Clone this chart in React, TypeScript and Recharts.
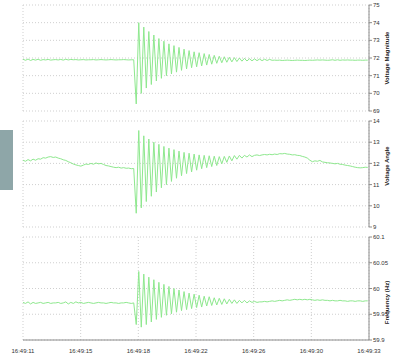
import { CartesianGrid, Line, LineChart, XAxis, YAxis } from "recharts";

// sample spacing in seconds, x of sample i is i * STEP
const STEP = 0.16;

const timeTicks = [0, 3.667, 7.333, 11, 14.667, 18.333, 22];
const timeLabels = ["16:49:11", "16:49:15", "16:49:18", "16:49:22", "16:49:26", "16:49:30", "16:49:33"];

const magTicks = [69, 70, 71, 72, 73, 74, 75];
const angleTicks = [9, 10, 11, 12, 13, 14];
const freqTicks = [59.9, 59.95, 60, 60.05, 60.1];

const magnitude = [
  71.93, 71.87, 71.94, 71.86, 71.92, 71.88, 71.93, 71.87, 71.91, 71.89, 71.92, 71.88, 71.9, 71.91, 71.89,
  71.92, 71.88, 71.93, 71.89, 71.92, 71.9, 71.91, 71.89, 71.9, 71.91, 71.89, 71.9, 71.9, 71.91, 71.89,
  71.9, 71.91, 71.9, 71.89, 71.9, 71.91, 71.9, 71.89, 71.9, 71.9, 71.91, 71.9, 71.89, 71.9, 71.9,
  69.4, 74.0, 70.0, 73.75, 70.3, 73.5, 70.5, 73.3, 70.7, 73.1, 70.85, 72.95, 71.0, 72.8, 71.1,
  72.7, 71.2, 72.6, 71.3, 72.5, 71.38, 72.42, 71.45, 72.35, 71.5, 72.3, 71.55, 72.25, 71.6, 72.2,
  71.65, 72.15, 71.7, 72.1, 71.73, 72.07, 71.76, 72.04, 71.78, 72.02, 71.8, 72.0, 71.82, 71.98, 71.83,
  71.96, 71.84, 71.95, 71.85, 71.94, 71.85, 71.93, 71.86, 71.92,
  71.87, 71.88, 71.87, 71.88, 71.86, 71.87, 71.88, 71.87, 71.86, 71.87, 71.88, 71.87, 71.87, 71.86, 71.87,
  71.88, 71.87, 71.88, 71.89, 71.88, 71.89, 71.88, 71.87, 71.88, 71.9, 71.87, 71.9, 71.87, 71.89, 71.88,
  71.89, 71.88, 71.88, 71.87, 71.88, 71.88, 71.87, 71.88, 71.88,
];

const angle = [
  12.15, 12.1, 12.18, 12.12, 12.2, 12.15, 12.22, 12.2, 12.27, 12.25, 12.3,
  12.32, 12.28, 12.3, 12.25, 12.22, 12.17,
  12.14, 12.08, 12.03, 11.97, 11.93, 11.9,
  11.87, 11.92, 11.97, 11.95, 12.0, 11.96, 12.02, 11.98,
  12.0, 11.95, 11.9, 11.88, 11.85, 11.82,
  11.8, 11.82, 11.78, 11.8, 11.77, 11.78, 11.75, 11.76,
  9.65, 13.55, 9.9, 13.3, 10.2, 13.15, 10.45, 13.0, 10.65, 12.9, 10.85, 12.8, 11.0, 12.72, 11.15,
  12.65, 11.3, 12.58, 11.42, 12.52, 11.52, 12.48, 11.6, 12.44, 11.68, 12.4, 11.75, 12.38, 11.8, 12.36,
  11.85, 12.34, 11.9, 12.32, 11.98, 12.33, 12.05, 12.35, 12.12, 12.37, 12.2, 12.38, 12.25, 12.38, 12.3,
  12.4, 12.32,
  12.38, 12.4, 12.37, 12.4, 12.42, 12.4, 12.43, 12.41, 12.44, 12.42,
  12.46, 12.45, 12.47, 12.44, 12.43, 12.4, 12.41, 12.38, 12.37, 12.33,
  12.3, 12.25, 12.15, 12.08, 12.12, 12.1, 12.14, 12.07, 12.05, 12.03,
  12.02, 12.0, 11.98, 12.0, 11.96, 11.95, 11.92, 11.9, 11.88, 11.85, 11.82, 11.8, 11.79, 11.8, 11.82, 11.81,
];

const frequency = [
  59.973, 59.971, 59.974, 59.97, 59.973, 59.971, 59.972, 59.973, 59.971, 59.972, 59.973, 59.971, 59.972, 59.972, 59.973,
  59.971, 59.972, 59.974, 59.97, 59.973, 59.971, 59.974, 59.972, 59.973, 59.971, 59.972, 59.973, 59.972, 59.971, 59.972,
  59.973, 59.972, 59.972, 59.971, 59.972, 59.973, 59.972, 59.972, 59.971, 59.972, 59.972, 59.973, 59.972, 59.971, 59.972,
  59.93, 60.033, 59.925, 60.028, 59.93, 60.022, 59.935, 60.017, 59.94, 60.012, 59.944, 60.008, 59.948, 60.004, 59.951,
  60.0, 59.954, 59.997, 59.957, 59.994, 59.959, 59.991, 59.961, 59.989, 59.963, 59.987, 59.964, 59.985, 59.966, 59.984,
  59.967, 59.982, 59.968, 59.981, 59.969, 59.98, 59.97, 59.979, 59.971, 59.978, 59.971, 59.977, 59.972, 59.977, 59.972,
  59.976,
  59.973, 59.975, 59.973, 59.974, 59.974, 59.975, 59.974, 59.975, 59.976, 59.975, 59.976, 59.977, 59.976, 59.977, 59.978,
  59.977, 59.978, 59.979, 59.978, 59.979, 59.978, 59.979, 59.978, 59.979, 59.978, 59.977, 59.978, 59.977, 59.978, 59.977,
  59.977, 59.976, 59.977, 59.976, 59.976, 59.977, 59.976, 59.976, 59.975, 59.976, 59.976, 59.975, 59.976, 59.976, 59.975,
  59.976, 59.976,
];

const LINE = "#8ee88e";
const FRAME = "#8c8c8c";
const FONT = "Liberation Sans, Arial, sans-serif";

function RightTitle(props: any) {
  const { viewBox, text, shift = 0 } = props;
  if (!viewBox) return null;
  const x = viewBox.x + viewBox.width - 8;
  const y = viewBox.y + viewBox.height / 2 + shift;
  return (
    <text
      x={x}
      y={y}
      transform={`rotate(-90, ${x}, ${y})`}
      textAnchor="middle"
      dominantBaseline="central"
      fontSize={6}
      fontWeight="bold"
      fill="#222"
      fontFamily={FONT}
    >
      {text}
    </text>
  );
}

type PanelProps = {
  values: number[];
  ticks: number[];
  title: string;
  titleShift?: number;
  top: number;
  height: number;
  marginTop: number;
  marginBottom: number;
  showTime?: boolean;
};

function Panel({ values, ticks, title, titleShift, top, height, marginTop, marginBottom, showTime }: PanelProps) {
  const data = values.map((v, i) => ({ t: i * STEP, v }));
  const domain: [number, number] = [ticks[0], ticks[ticks.length - 1]];
  return (
    <div style={{ position: "absolute", left: 0, top }}>
      <LineChart
        width={395}
        height={height}
        data={data}
        margin={{ top: marginTop, right: 0, bottom: marginBottom, left: 23 }}
      >
        <CartesianGrid stroke="#cfcfcf" strokeDasharray="1 2" />
        <XAxis
          type="number"
          dataKey="t"
          domain={[0, 22]}
          ticks={timeTicks}
          height={showTime ? 13 : 0}
          tick={showTime ? { fontSize: 6, fill: "#333", fontFamily: FONT } : false}
          tickFormatter={(v: number) => timeLabels[timeTicks.indexOf(v)] ?? ""}
          tickLine={false}
          tickMargin={3}
          axisLine={{ stroke: FRAME }}
          interval={0}
        />
        <XAxis
          xAxisId="top"
          orientation="top"
          type="number"
          dataKey="t"
          domain={[0, 22]}
          height={0}
          tick={false}
          tickLine={false}
          axisLine={{ stroke: FRAME }}
        />
        <YAxis
          orientation="right"
          domain={domain}
          ticks={ticks}
          width={26}
          interval={0}
          tick={{ fontSize: 6, fill: "#333", fontFamily: FONT }}
          tickSize={3}
          tickMargin={1}
          tickLine={{ stroke: FRAME }}
          axisLine={{ stroke: FRAME }}
          label={<RightTitle text={title} shift={titleShift} />}
        />
        <YAxis
          yAxisId="left"
          orientation="left"
          domain={domain}
          width={0}
          tick={false}
          tickLine={false}
          axisLine={{ stroke: FRAME }}
        />
        <Line
          type="linear"
          dataKey="v"
          stroke={LINE}
          strokeWidth={1}
          dot={false}
          isAnimationActive={false}
        />
      </LineChart>
    </div>
  );
}

export default function App() {
  return (
    <div
      style={{
        position: "absolute",
        left: 0,
        top: 0,
        width: 395,
        height: 353,
        background: "#fff",
        fontFamily: FONT,
        overflow: "hidden",
      }}
    >
      <div style={{ position: "absolute", left: 0, top: 130, width: 13, height: 60, background: "#8ea6a8" }} />
      <Panel values={magnitude} ticks={magTicks} title="Voltage Magnitude" top={0} height={116} marginTop={5} marginBottom={5} />
      <Panel
        values={angle}
        ticks={angleTicks}
        title="Voltage Angle"
        titleShift={-8}
        top={116}
        height={116}
        marginTop={5}
        marginBottom={5}
      />
      <Panel
        values={frequency}
        ticks={freqTicks}
        title="Frequency (Hz)"
        titleShift={14}
        top={231}
        height={122}
        marginTop={6}
        marginBottom={0}
        showTime
      />
    </div>
  );
}
